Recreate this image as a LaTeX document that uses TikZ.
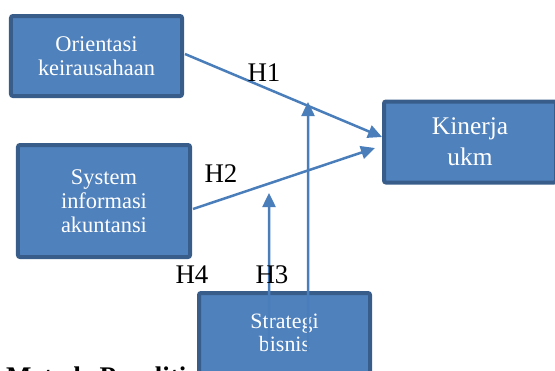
\documentclass[tikz,border=0pt]{standalone}
\usepackage{fontspec}
\setmainfont{Liberation Serif}
\usetikzlibrary{arrows.meta}
\definecolor{boxfill}{HTML}{4F81BD}
\definecolor{boxline}{HTML}{385D8A}
\definecolor{arrowcol}{HTML}{4A7EBB}
\tikzset{
  varbox/.style={draw=boxline, fill=boxfill, line width=4bp, rounded corners=2bp,
    text=white, align=center, inner sep=0pt},
  link/.style={draw=arrowcol, line width=2.5bp, -{Triangle[length=14bp,width=13bp]}},
  hlabel/.style={font=\fontsize{27}{27}\selectfont, inner sep=0pt},
}
\begin{document}
\begin{tikzpicture}[x=1bp,y=-1bp]
\useasboundingbox (0,0) rectangle (555,370);
\clip (0,0) rectangle (555,370);
\node[anchor=base west, inner sep=0pt, font=\fontsize{27}{27}\selectfont\bfseries] (title) at (6,385) {Metode Penelitian};
\node[varbox, minimum width=171bp, minimum height=80bp, font=\fontsize{22.5}{24}\selectfont] (b1) at (96.5,56) {Orientasi\\keirausahaan};
\node[varbox, minimum width=172bp, minimum height=112bp, font=\fontsize{22.5}{24}\selectfont] (b2) at (104,201) {System\\informasi\\akuntansi};
\node[varbox, minimum width=172bp, minimum height=81bp, font=\fontsize{25.5}{31}\selectfont] (b3) at (470,142) {Kinerja\\ukm};
\node[varbox, minimum width=171bp, minimum height=80bp, font=\fontsize{22}{22.5}\selectfont] (b4) at (284.5,333) {Strategi\\bisnis};
\coordinate (t1) at (308,102);
\coordinate (t2) at (269,193);
\draw[link] ([xshift=1bp,yshift=2bp]b1.east) -- ([yshift=5bp]b3.west);
\draw[link] ([xshift=1bp,yshift=-8bp]b2.east) -- ([xshift=-7bp,yshift=-6bp]b3.west);
\draw[link] ([xshift=23.5bp,yshift=-19bp]b4.center) -- (t1);
\draw[link] ([xshift=-15.5bp,yshift=-19bp]b4.center) -- (t2);
\node[hlabel] (h1) at (264,73) {H1};
\node[hlabel] (h2) at (221,174) {H2};
\node[hlabel] (h4) at (192,275) {H4};
\node[hlabel] (h3) at (272,275) {H3};
\end{tikzpicture}
\end{document}
